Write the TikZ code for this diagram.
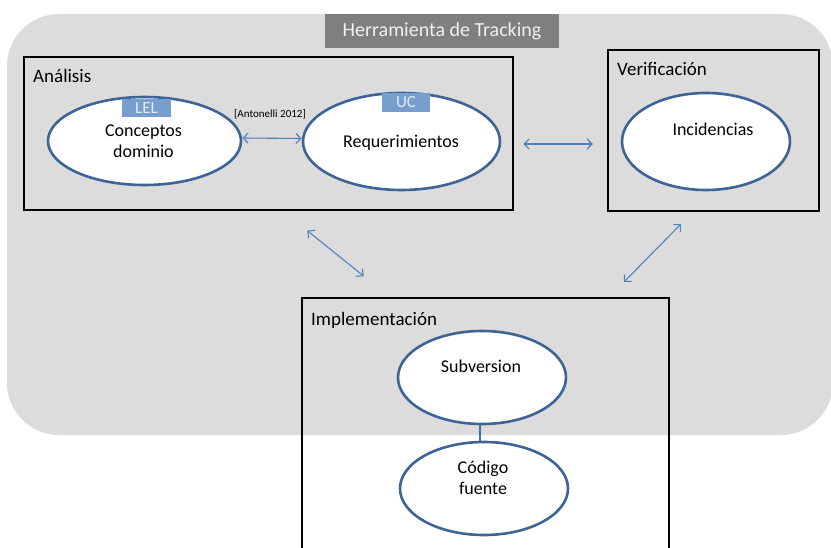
\documentclass[tikz,border=0pt]{standalone}
\usepackage{fontspec}
\setmainfont{Carlito}
\usetikzlibrary{arrows.meta,shapes.geometric}

\definecolor{bggray}{RGB}{220,220,220}
\definecolor{titlegray}{RGB}{127,127,127}
\definecolor{titletext}{RGB}{240,240,240}
\definecolor{ellblue}{RGB}{62,100,150}
\definecolor{tagblue}{RGB}{118,158,206}
\definecolor{tagtext}{RGB}{228,236,246}
\definecolor{arrblue}{RGB}{79,129,189}

\tikzset{
  areabox/.style={draw=black, line width=2.5pt, fill=none, inner sep=0pt},
  arealabel/.style={anchor=base west, inner sep=0pt, font=\fontsize{19}{22}\selectfont},
  oval/.style={ellipse, draw=ellblue, line width=2.6pt, fill=white, inner sep=0pt},
  ovaltext/.style={inner sep=0pt, align=center, font=\fontsize{18}{21}\selectfont},
  tag/.style={fill=tagblue, text=tagtext, inner sep=0pt, font=\fontsize{17}{19}\selectfont},
  biarrow/.style={draw=arrblue, line width=1.1pt, {Straight Barb[length=5pt,width=10pt]}-{Straight Barb[length=5pt,width=10pt]}},
  link/.style={draw=arrblue!85!black, line width=2pt}
}

\begin{document}
\begin{tikzpicture}[x=1pt,y=-1pt]
\useasboundingbox (0,0) rectangle (831,548);
\clip (0,0) rectangle (831,548);

% tracking tool background
\node[fill=bggray, rounded corners=52pt, minimum width=826pt, minimum height=421pt, inner sep=0pt] (tool) at (420,224.5) {};
\node[fill=titlegray, text=titletext, minimum width=234pt, minimum height=34pt, inner sep=0pt,
      font=\fontsize{20}{24}\selectfont] (title) at (442,31) {Herramienta de Tracking};

% areas
\node[areabox, minimum width=489pt, minimum height=153pt] (ana) at (268.5,133.5) {};
\node[arealabel] (anal) at (33,83) {Análisis};
\node[areabox, minimum width=211pt, minimum height=161pt] (ver) at (713.5,130.5) {};
\node[arealabel] (verl) at (617,76) {Verificación};
\node[areabox, minimum width=367pt, minimum height=270pt] (imp) at (485.5,433) {};
\node[arealabel] (impl) at (311,326) {Implementación};

% ovals
\node[oval, minimum width=193pt, minimum height=88pt] (con) at (144.5,141) {};
\node[oval, minimum width=197pt, minimum height=97pt] (req) at (401.5,141.5) {};
\node[oval, minimum width=168pt, minimum height=97pt] (inc) at (706,141.5) {};
\node[oval, minimum width=168pt, minimum height=93pt] (sub) at (482,377.5) {};
\node[oval, minimum width=168pt, minimum height=93pt] (cod) at (484,488.5) {};

% oval texts
\node[ovaltext] (cont) at (143.5,141.5) {Conceptos\\dominio};
\node[ovaltext, anchor=base] (reqt) at (401,148) {Requerimientos};
\node[ovaltext, anchor=base] (inct) at (713,136) {Incidencias};
\node[ovaltext, anchor=base] (subt) at (481,372.5) {Subversion};
\node[ovaltext] (codt) at (483,477.5) {Código\\fuente};

% tags
\node[tag, minimum width=49pt, minimum height=18pt] (lel) at (146.5,108) {LEL};
\node[tag, minimum width=48pt, minimum height=19pt] (uc) at (406,102.5) {UC};

% connectors
\draw[biarrow] ([yshift=3pt]con.east) -- ([yshift=3pt]req.west);
\node[anchor=base, inner sep=0pt, font=\fontsize{11}{13}\selectfont] (ref) at (270,118) {[Antonelli 2012]};
\draw[biarrow, shorten <=9pt, shorten >=14pt] ([yshift=-10.5pt]ana.east) -- ([yshift=-13.5pt]ver.west);
\draw[biarrow, shorten <=31pt, shorten >=33pt] ([xshift=14.5pt]ana.south) -- ([xshift=-96pt]imp.north);
\draw[biarrow, shorten <=16.5pt, shorten >=20.7pt] ([xshift=-21pt]ver.south) -- ([xshift=124pt]imp.north);
\draw[link] ([xshift=-2pt]sub.south) -- ([xshift=-2pt]sub.south |- cod.north);
\end{tikzpicture}
\end{document}
